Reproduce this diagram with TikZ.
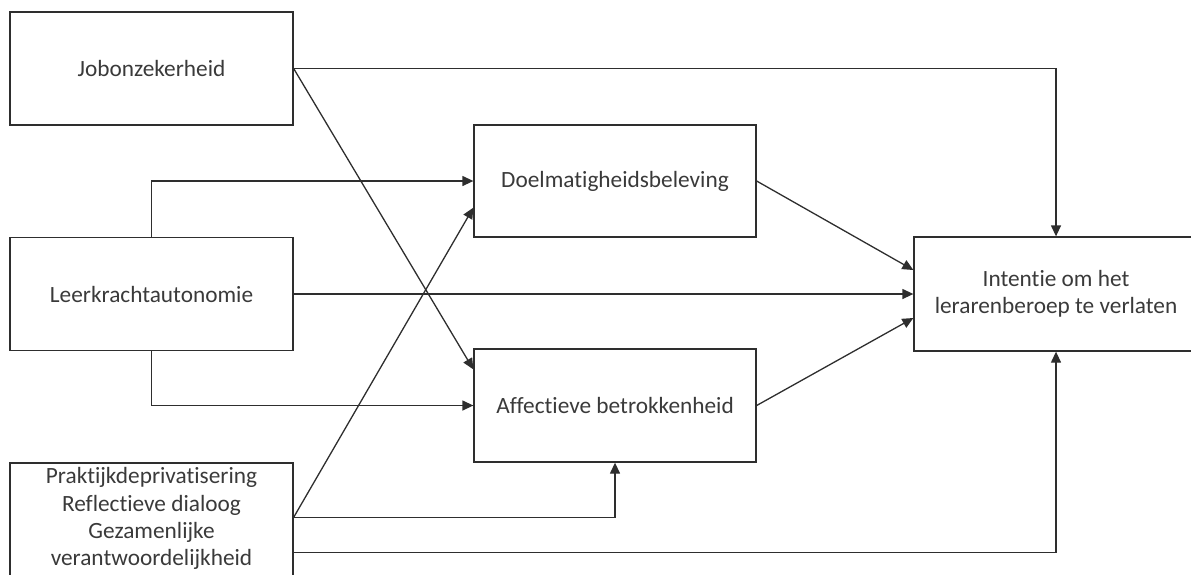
\documentclass[tikz,border=0pt]{standalone}
\usepackage{fontspec}
\setmainfont{Carlito}[RawFeature={-liga;-clig;-calt;-dlig}]
\usetikzlibrary{arrows.meta,calc}
\definecolor{txt}{HTML}{3A3A3A}
\definecolor{lnc}{HTML}{2E2E2E}
\begin{document}
\begin{tikzpicture}[x=1pt,y=-1pt,
  box/.style={draw=lnc, line width=1.3pt, minimum width=283pt, inner sep=0pt,
    font=\fontsize{23.3}{26.5}\selectfont, text=txt, align=center},
  lbl/.style={inner sep=0pt, font=\fontsize{23.3}{27.3}\selectfont, text=txt, align=center},
  arr/.style={draw=lnc, line width=1.3pt, -{Triangle[length=11pt,width=10pt]}}]
\useasboundingbox (0,0) rectangle (1191,574);
\clip (0,0) rectangle (1191,574);
\node[box, minimum height=113pt] (J) at (151.5,68.5) {Jobonzekerheid};
\node[box, minimum height=113pt] (L) at (151.5,294) {Leerkrachtautonomie};
\node[box, minimum height=160pt] (P) at (151.5,543) {};
\node[lbl, anchor=north] (Pt) at (151.5,467.5) {Praktijkdeprivatisering\\Reflectieve dialoog\\Gezamenlijke\\verantwoordelijkheid};
\node[box, minimum width=282pt, minimum height=112pt] (D) at (615,181) {Doelmatigheidsbeleving};
\node[box, minimum width=282pt, minimum height=113pt] (A) at (615,405.5) {Affectieve betrokkenheid};
\node[box, minimum width=284pt, minimum height=114pt] (I) at (1056,294) {Intentie om het\\lerarenberoep te verlaten};
\draw[arr] (J.east) -| (I.north);
\draw[arr] (J.east) -- ([yshift=-21pt]A.north west);
\draw[arr] (L.north) |- (D.west);
\draw[arr] (L.east) -- (I.west);
\draw[arr] (L.south) |- (A.west);
\draw[arr] ([yshift=-55pt]P.north east) -- ([yshift=30pt]D.south west);
\draw[arr] ([yshift=-55pt]P.north east) -| (A.south);
\draw[arr] ([yshift=-90pt]P.north east) -| (I.south);
\draw[arr] (D.east) -- ([yshift=24pt]I.west);
\draw[arr] (A.east) -- ([yshift=-24pt]I.west);
\end{tikzpicture}
\end{document}
